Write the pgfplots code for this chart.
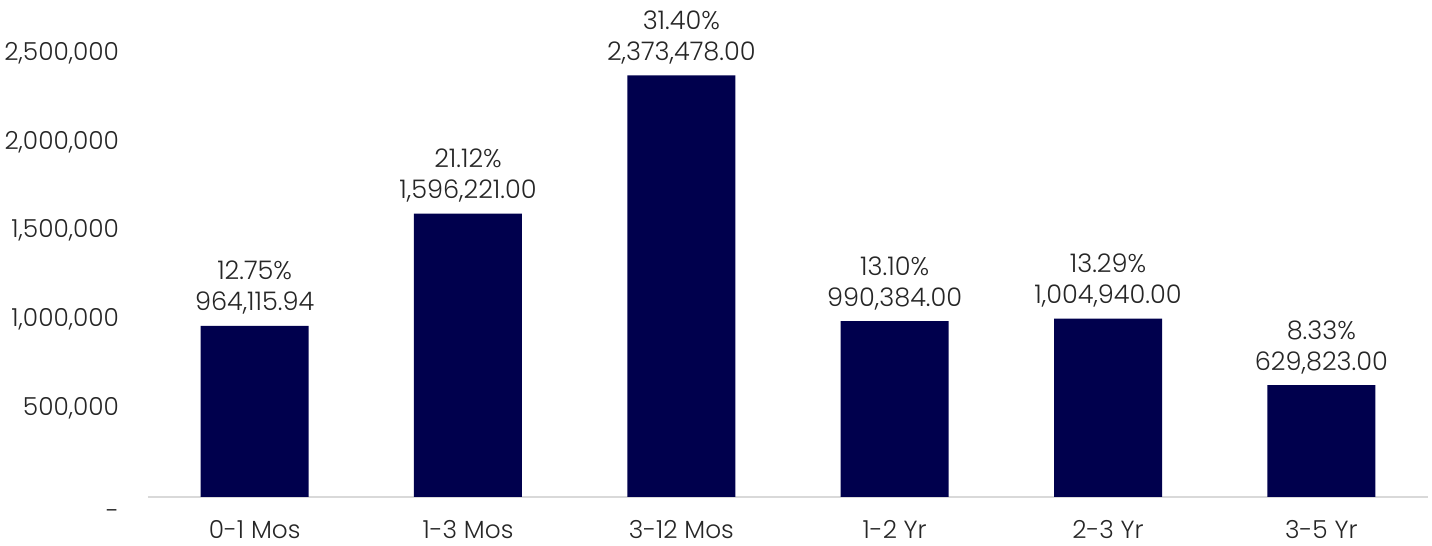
\documentclass[border=0pt]{standalone}
\usepackage{fontspec}
\setmainfont{Poppins}[UprightFont=* Light]
\usepackage{pgfplots}
\pgfplotsset{compat=1.18}
\definecolor{barblue}{RGB}{0,0,77}
\definecolor{axisgray}{RGB}{217,217,217}
\definecolor{txt}{RGB}{38,38,38}
\begin{document}
\begin{tikzpicture}
\useasboundingbox (-74pt,-24.5pt) rectangle (642pt,248.5pt);
\begin{axis}[
  at={(0,0)}, anchor=south west,
  scale only axis,
  width=640pt, height=222pt,
  xmin=-0.5, xmax=5.5,
  ymin=0, ymax=2500000,
  scaled y ticks=false,
  axis x line*=bottom,
  axis y line*=left,
  x axis line style={axisgray, line width=1pt, -},
  y axis line style={draw=none},
  xtick=data,
  xticklabels={0-1 Mos,1-3 Mos,3-12 Mos,1-2 Yr,2-3 Yr,3-5 Yr},
  major tick length=0pt,
  ytick={0,500000,1000000,1500000,2000000,2500000},
  yticklabels={{\smash{\raisebox{-11.5pt}{-}}},{500,000},{1,000,000},{1,500,000},{2,000,000},{2,500,000}},
  ticklabel style={font=\fontsize{12.4}{15}\selectfont, text=txt},
  xticklabel style={yshift=-8pt},
  yticklabel style={xshift=-11pt},
  clip=false,
]
\addplot[ybar, bar width=54pt, fill=barblue, draw=none,
  point meta=explicit symbolic,
  nodes near coords,
  every node near coord/.style={font=\fontsize{12.8}{15.5}\selectfont, text=txt, align=center, anchor=south, yshift=2pt},
] coordinates {
  (0,964115.94) [12.75\%\\964,115.94]
  (1,1596221) [21.12\%\\1,596,221.00]
  (2,2373478) [31.40\%\\2,373,478.00]
  (3,990384) [13.10\%\\990,384.00]
  (4,1004940) [13.29\%\\1,004,940.00]
  (5,629823) [8.33\%\\629,823.00]
};
\end{axis}
\end{tikzpicture}
\end{document}
